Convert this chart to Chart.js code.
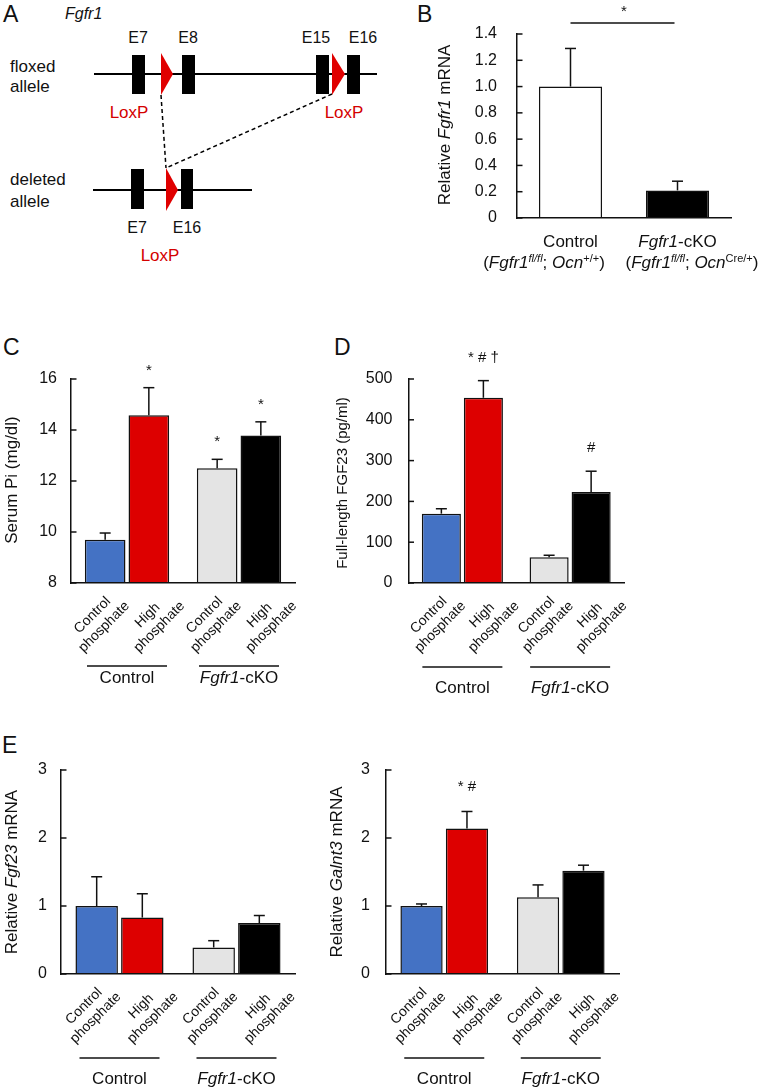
<!DOCTYPE html>
<html>
<head>
<meta charset="utf-8">
<script src="https://cdn.jsdelivr.net/npm/chart.js@4.4.1/dist/chart.umd.min.js"></script>
<style>
  body { margin: 0; width: 762px; height: 1090px; background: #fff; position: relative; overflow: hidden; }
  .box { position: absolute; }
</style>
</head>
<body>
<svg class="box" style="left:0;top:0" width="762" height="1090" font-family="Liberation Sans, Arial, sans-serif" fill="#111">
  <g font-size="23">
    <text x="3" y="22">A</text><text x="417" y="22">B</text>
    <text x="3" y="355">C</text><text x="334" y="355">D</text>
    <text x="2" y="753">E</text>
  </g>
  <text x="65" y="19" font-size="16" font-style="italic">Fgfr1</text>
  <g font-size="16" text-anchor="middle">
    <text x="138" y="43">E7</text><text x="188" y="43">E8</text>
    <text x="316" y="43">E15</text><text x="363" y="43">E16</text>
    <text x="137" y="233">E7</text><text x="187" y="233">E16</text>
  </g>
  <g font-size="17">
    <text x="10" y="72">floxed</text><text x="10" y="92">allele</text>
    <text x="10" y="185">deleted</text><text x="10" y="207">allele</text>
  </g>
  <g font-size="17" fill="#d40000" text-anchor="middle">
    <text x="129" y="118">LoxP</text><text x="344" y="118">LoxP</text><text x="160" y="261">LoxP</text>
  </g>
  <g stroke="#000" stroke-width="2">
    <line x1="94" y1="74" x2="377" y2="74"/>
    <line x1="93" y1="190" x2="252" y2="190"/>
  </g>
  <g fill="#000">
    <rect x="132" y="55" width="13" height="39"/><rect x="182" y="55" width="13" height="39"/>
    <rect x="316" y="55" width="13" height="39"/><rect x="347" y="55" width="13" height="39"/>
    <rect x="131" y="169" width="13" height="40"/><rect x="181" y="169" width="12" height="40"/>
  </g>
  <g fill="#e00000">
    <polygon points="161,53 161,95 173,74"/>
    <polygon points="332,53 332,95 345,74"/>
    <polygon points="166,168 166,211 178,190"/>
  </g>
  <g stroke="#000" stroke-width="1.5" stroke-dasharray="4 3">
    <line x1="161" y1="95" x2="166" y2="168"/>
    <line x1="332" y1="94" x2="166" y2="168"/>
  </g>
</svg>
<script>
// ---- data ----
const groupNames = ['Control', '_Fgfr1_-cKO'];
const dietNames = ['Control phosphate', 'High phosphate'];
const genotypes = ['(_Fgfr1_^_fl/fl_^; _Ocn_^+/+^)', '(_Fgfr1_^_fl/fl_^; _Ocn_^Cre/+^)'];

// B: Fgfr1 mRNA
const fgfr1Mean = [1.0, 0.21];
const fgfr1Sem = [0.29, 0.07];

// C: serum Pi (mg/dl)
const piCtrlDiet = [9.70, 12.50];
const piCtrlSem = [0.26, 0.35];
const piHighDiet = [14.58, 13.78];
const piHighSem = [1.08, 0.54];
const piCtrlNotes = ['', '*'];
const piHighNotes = ['*', '*'];

// D: full-length FGF23 (pg/ml)
const fgfCtrlDiet = [170, 63];
const fgfCtrlSem = [12, 5];
const fgfHighDiet = [454, 223];
const fgfHighSem = [42, 51];
const fgfHighNotes = ['* # \u2020', '#'];

// E: Fgf23 mRNA
const fgf23CtrlDiet = [1.00, 0.39];
const fgf23CtrlSem = [0.43, 0.10];
const fgf23HighDiet = [0.83, 0.75];
const fgf23HighSem = [0.35, 0.11];

// E: Galnt3 mRNA
const galntCtrlDiet = [1.00, 1.13];
const galntCtrlSem = [0.03, 0.18];
const galntHighDiet = [2.14, 1.52];
const galntHighSem = [0.25, 0.08];
const galntHighNotes = ['* #', ''];

// ---- drawing ----
const FONT = '"Liberation Sans", Arial, sans-serif';
const ink = '#111';
const blue = '#4472c4', red = '#dd0000', gray = '#e4e4e4', black = '#000';

function parseRich(str) {
    const parts = [];
    let it = false, sup = false, buf = '';
    const flush = () => {
        if (buf) parts.push([buf, (it ? 'i' : '') + (sup ? 's' : '')]);
        buf = '';
    };
    for (const ch of str) {
        if (ch === '_') { flush(); it = !it; }
        else if (ch === '^') { flush(); sup = !sup; }
        else buf += ch;
    }
    flush();
    return parts;
}

function partFont(flags, size) {
    const sz = flags.includes('s') ? Math.round(size * 0.65) : size;
    return (flags.includes('i') ? 'italic ' : '') + sz + 'px ' + FONT;
}

function drawRich(ctx, parts, x, y, size) {
    const widths = parts.map(([t, f]) => {
        ctx.font = partFont(f, size);
        return ctx.measureText(t).width;
    });
    let px = x - widths.reduce((a, b) => a + b, 0) / 2;
    ctx.textAlign = 'left';
    parts.forEach(([t, f], k) => {
        ctx.font = partFont(f, size);
        ctx.fillText(t, px, f.includes('s') ? y - size * 0.38 : y);
        px += widths[k];
    });
}

function line(ctx, x1, y1, x2, y2) {
    ctx.beginPath();
    ctx.moveTo(x1, y1);
    ctx.lineTo(x2, y2);
    ctx.stroke();
}

const decor = {
    id: 'decor',
    afterDraw(chart, args, o) {
        const { ctx, chartArea: a, scales: { x, y } } = chart;
        ctx.save();
        ctx.strokeStyle = ink;
        ctx.fillStyle = ink;
        ctx.lineWidth = 1.5;

        // tick marks point into the plot
        y.ticks.forEach(t => {
            const py = y.getPixelForValue(t.value);
            line(ctx, a.left, py, a.left + 5.5, py);
        });

        chart.data.datasets.forEach((ds, di) => {
            chart.getDatasetMeta(di).data.forEach((bar, i) => {
                const top = y.getPixelForValue(ds.data[i] + ds.sem[i]);
                line(ctx, bar.x, bar.y, bar.x, top);
                line(ctx, bar.x - 5.5, top, bar.x + 5.5, top);
                const note = ds.notes && ds.notes[i];
                if (note) {
                    ctx.font = '15px ' + FONT;
                    ctx.textAlign = 'center';
                    ctx.textBaseline = 'alphabetic';
                    ctx.fillText(note, bar.x, top - o.noteGap);
                }
                if (o.diet) {
                    ctx.save();
                    ctx.translate(bar.x + o.diet.shift[di], a.bottom + o.diet.dy);
                    ctx.rotate(-Math.PI / 4);
                    ctx.font = '14px ' + FONT;
                    ctx.textAlign = 'center';
                    ctx.textBaseline = 'middle';
                    const rows = dietNames[di].split(' ');
                    rows.forEach((s, k) => ctx.fillText(s, 0, (k - rows.length + 1) * 16.5));
                    ctx.restore();
                }
            });
        });

        ctx.textBaseline = 'alphabetic';
        if (o.groups) {
            chart.data.labels.forEach((g, i) => {
                const cx = x.getPixelForValue(i);
                line(ctx, cx - 40, a.bottom + o.groups.lineDy, cx + 40, a.bottom + o.groups.lineDy);
                drawRich(ctx, parseRich(g), cx, a.bottom + o.groups.labelDy, 17);
            });
        }
        if (o.rows) {
            o.rows.forEach(r => r.texts.forEach((txt, i) => {
                drawRich(ctx, parseRich(txt), x.getPixelForValue(i) + r.dx[i], a.bottom + r.dy, 17);
            }));
        }
        if (o.bracket) {
            const m = chart.getDatasetMeta(0).data;
            line(ctx, m[0].x, o.bracket.y, m[1].x - 3, o.bracket.y);
            ctx.font = '15px ' + FONT;
            ctx.textAlign = 'center';
            ctx.fillText(o.bracket.note, (m[0].x + m[1].x) / 2, o.bracket.noteY);
        }

        ctx.translate(o.title.x, o.title.y);
        ctx.rotate(-Math.PI / 2);
        ctx.textBaseline = 'middle';
        drawRich(ctx, parseRich(o.title.text), 0, 0, o.title.size);
        ctx.restore();
    }
};

function barPanel(box, area, yAxis, datasets, decorOpts) {
    const canvas = document.createElement('canvas');
    canvas.width = box.w;
    canvas.height = box.h;
    canvas.className = 'box';
    canvas.style.left = box.x + 'px';
    canvas.style.top = box.y + 'px';
    document.body.appendChild(canvas);
    const border = { display: true, color: ink, width: 1.5, z: 1 };
    return new Chart(canvas, {
        type: 'bar',
        data: { labels: groupNames, datasets },
        options: {
            responsive: false,
            animation: false,
            layout: { padding: { left: 0, top: area.top, right: box.w - area.right, bottom: box.h - area.bottom } },
            plugins: { legend: { display: false }, tooltip: { enabled: false }, decor: decorOpts },
            scales: {
                x: {
                    grid: { display: false, drawTicks: false },
                    ticks: { display: false },
                    border,
                    afterFit: s => { s.height = 0; }
                },
                y: {
                    min: yAxis.min,
                    max: yAxis.max,
                    grid: { display: false, drawTicks: false },
                    border,
                    ticks: {
                        stepSize: yAxis.step,
                        padding: yAxis.pad,
                        color: ink,
                        font: { family: FONT, size: 16 },
                        callback: yAxis.format || (v => v)
                    },
                    afterFit: s => { s.width = area.left; }
                }
            }
        },
        plugins: [decor]
    });
}

function dietSets(ctrl, ctrlSem, high, highSem, ctrlNotes, highNotes) {
    const common = { borderColor: ink, borderWidth: 1.5, barPercentage: 0.93, categoryPercentage: 0.78 };
    return [
        Object.assign({ label: dietNames[0], data: ctrl, sem: ctrlSem, notes: ctrlNotes, backgroundColor: [blue, gray] }, common),
        Object.assign({ label: dietNames[1], data: high, sem: highSem, notes: highNotes, backgroundColor: [red, black] }, common)
    ];
}

const dietLabels = { dy: 44, shift: [-1, 10.5] };

// B
barPanel({ x: 400, y: 0, w: 362, h: 330 }, { left: 117, right: 331, top: 34, bottom: 218 },
    { min: 0, max: 1.4, step: 0.2, pad: 20, format: v => v === 0 ? '0' : v.toFixed(1) },
    [{ label: 'Fgfr1', data: fgfr1Mean, sem: fgfr1Sem, backgroundColor: ['#fff', black], borderColor: ink, borderWidth: 1.5, barPercentage: 0.59, categoryPercentage: 1 }],
    {
        title: { text: 'Relative _Fgfr1_ mRNA', x: 45, y: 125, size: 17 },
        rows: [{ texts: groupNames, dx: [0, 0], dy: 29 }, { texts: genotypes, dx: [-26.5, 14.5], dy: 50 }],
        bracket: { y: 23, note: '*', noteY: 16 }
    });

// C
barPanel({ x: 0, y: 340, w: 330, h: 360 }, { left: 71, right: 295, top: 39, bottom: 243 },
    { min: 8, max: 16, step: 2, pad: 14 },
    dietSets(piCtrlDiet, piCtrlSem, piHighDiet, piHighSem, piCtrlNotes, piHighNotes),
    { title: { text: 'Serum Pi (mg/dl)', x: 12, y: 140, size: 17 }, noteGap: 13, diet: dietLabels, groups: { lineDy: 83, labelDy: 100 } });

// D
barPanel({ x: 330, y: 340, w: 330, h: 360 }, { left: 78.5, right: 294, top: 39, bottom: 243 },
    { min: 0, max: 500, step: 100, pad: 16 },
    dietSets(fgfCtrlDiet, fgfCtrlSem, fgfHighDiet, fgfHighSem, null, fgfHighNotes),
    { title: { text: 'Full-length FGF23 (pg/ml)', x: 13, y: 143, size: 15 }, noteGap: 19, diet: dietLabels, groups: { lineDy: 84, labelDy: 110 } });

// E left
barPanel({ x: 0, y: 730, w: 320, h: 360 }, { left: 61, right: 295, top: 40, bottom: 244 },
    { min: 0, max: 3, step: 1, pad: 14 },
    dietSets(fgf23CtrlDiet, fgf23CtrlSem, fgf23HighDiet, fgf23HighSem, null, null),
    { title: { text: 'Relative _Fgf23_ mRNA', x: 12, y: 142, size: 17 }, noteGap: 20, diet: dietLabels, groups: { lineDy: 84, labelDy: 109.5 } });

// E right
barPanel({ x: 320, y: 730, w: 330, h: 360 }, { left: 66, right: 299, top: 40, bottom: 244 },
    { min: 0, max: 3, step: 1, pad: 16 },
    dietSets(galntCtrlDiet, galntCtrlSem, galntHighDiet, galntHighSem, null, galntHighNotes),
    { title: { text: 'Relative _Galnt3_ mRNA', x: 17, y: 142, size: 17 }, noteGap: 20, diet: dietLabels, groups: { lineDy: 84, labelDy: 110 } });
</script>
</body>
</html>
